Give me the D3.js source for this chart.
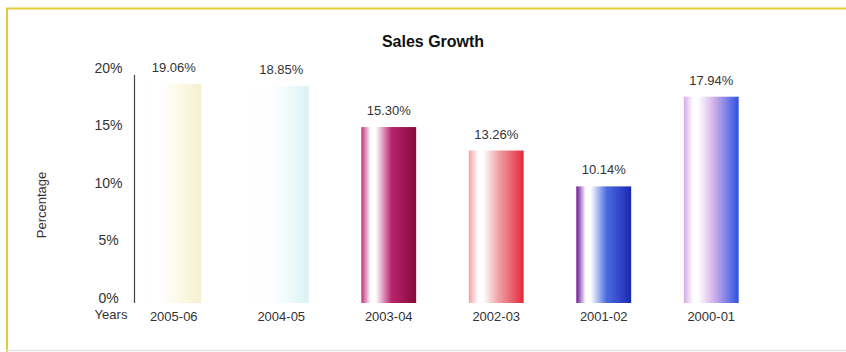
<!DOCTYPE html>
<html>
<head>
<meta charset="utf-8">
<script src="https://cdn.jsdelivr.net/npm/d3@7"></script>
<style>
  html, body { margin: 0; padding: 0; background: #ffffff; }
  svg { display: block; font-family: "Liberation Sans", Arial, sans-serif; }
</style>
</head>
<body>
<svg id="chart" width="846" height="352"></svg>
<script>
// Sales growth by financial year
const years = ["2005-06", "2004-05", "2003-04", "2002-03", "2001-02", "2000-01"];
const growth = [19.06, 18.85, 15.30, 13.26, 10.14, 17.94];
const yTicks = [0, 5, 10, 15, 20];

// Per-bar cylinder shading: [left edge, highlight, mid, right edge]
const barShades = [
  ["#fffefa", "#ffffff", "#fdfaea", "#f6efcf"],
  ["#fbfeff", "#ffffff", "#f4fcfd", "#d9f2f6"],
  ["#c2307e", "#ffffff", "#b8236e", "#850b3a"],
  ["#f2a2a2", "#ffffff", "#efa0a4", "#e5283a"],
  ["#6a1596", "#ffffff", "#4a6ce0", "#1b28b0"],
  ["#d6aae6", "#ffffff", "#d2b0ea", "#2c52e2"]
];

const svg = d3.select("#chart");
const W = 846, H = 352;

// frame
svg.append("line").attr("x1", 6).attr("x2", W).attr("y1", 8.5).attr("y2", 8.5)
  .attr("stroke", "#e2cc3a").attr("stroke-width", 2);
svg.append("line").attr("x1", 7).attr("x2", 7).attr("y1", 8).attr("y2", H)
  .attr("stroke", "#e2cc3a").attr("stroke-width", 2);
svg.append("line").attr("x1", 6).attr("x2", W).attr("y1", 350.5).attr("y2", 350.5)
  .attr("stroke", "#e4e4e4").attr("stroke-width", 1.5);

const x = d3.scaleBand()
  .domain(years)
  .range([120, 765])
  .paddingInner(0.49)
  .paddingOuter(0.245);

const y = d3.scaleLinear().domain([0, 20]).range([303, 73]);

// gradients
const defs = svg.append("defs");
barShades.forEach((c, i) => {
  const g = defs.append("linearGradient")
    .attr("id", "bar" + i).attr("x1", "0%").attr("x2", "100%").attr("y1", "0%").attr("y2", "0%");
  g.append("stop").attr("offset", "0%").attr("stop-color", c[0]);
  g.append("stop").attr("offset", "17%").attr("stop-color", c[1]);
  g.append("stop").attr("offset", "26%").attr("stop-color", c[1]);
  g.append("stop").attr("offset", "55%").attr("stop-color", c[2]);
  g.append("stop").attr("offset", "100%").attr("stop-color", c[3]);
});
const axisGrad = defs.append("linearGradient").attr("id", "xaxisGrad")
  .attr("x1", "0%").attr("x2", "100%");
axisGrad.append("stop").attr("offset", "0%").attr("stop-color", "#3a3a3a");
axisGrad.append("stop").attr("offset", "70%").attr("stop-color", "#4a4a40");
axisGrad.append("stop").attr("offset", "100%").attr("stop-color", "#8c8c3c");

// title
svg.append("text")
  .attr("x", 433).attr("y", 47)
  .attr("text-anchor", "middle")
  .attr("font-size", 16).attr("font-weight", "bold").attr("fill", "#111")
  .text("Sales Growth");

// bars
svg.append("g").selectAll("rect")
  .data(years)
  .join("rect")
  .attr("x", d => x(d))
  .attr("width", x.bandwidth())
  .attr("y", (d, i) => y(growth[i]))
  .attr("height", (d, i) => y(0) - y(growth[i]))
  .attr("fill", (d, i) => `url(#bar${i})`);

// value labels
svg.append("g").selectAll("text")
  .data(years)
  .join("text")
  .attr("x", d => x(d) + x.bandwidth() / 2)
  .attr("y", (d, i) => y(growth[i]) - 12)
  .attr("text-anchor", "middle")
  .attr("font-size", 13).attr("fill", "#333")
  .text((d, i) => growth[i].toFixed(2) + "%");

// y axis
const yAxis = d3.axisLeft(y).tickValues(yTicks).tickSize(0).tickPadding(10)
  .tickFormat(d => d + "%");
const gy = svg.append("g").attr("transform", "translate(134.5,0)").call(yAxis);
gy.select(".domain").remove();
gy.selectAll("text").attr("font-size", 14).attr("fill", "#333")
  .attr("font-family", "Liberation Sans, Arial, sans-serif")
  .attr("dy", "-0.05em").attr("text-anchor", "middle").attr("dx", "-16");
svg.append("line").attr("x1", 134.5).attr("x2", 134.5).attr("y1", 75).attr("y2", 303)
  .attr("stroke", "#444").attr("stroke-width", 1.2);

// x axis
const xAxis = d3.axisBottom(x).tickSize(0).tickPadding(9);
const gx = svg.append("g").attr("transform", "translate(0,303)").call(xAxis);
gx.select(".domain").remove();
gx.selectAll("text").attr("font-size", 13).attr("fill", "#333")
  .attr("font-family", "Liberation Sans, Arial, sans-serif");
svg.append("line").attr("x1", 134).attr("x2", 774).attr("y1", 302.7).attr("y2", 302.7)
  .attr("stroke", "url(#xaxisGrad)").attr("stroke-width", 1.3);

// axis titles
svg.append("text")
  .attr("x", 111).attr("y", 319)
  .attr("text-anchor", "middle")
  .attr("font-size", 13).attr("fill", "#333")
  .text("Years");
svg.append("text")
  .attr("transform", "translate(46,205) rotate(-90)")
  .attr("text-anchor", "middle")
  .attr("font-size", 13).attr("fill", "#333")
  .text("Percentage");
</script>
</body>
</html>
